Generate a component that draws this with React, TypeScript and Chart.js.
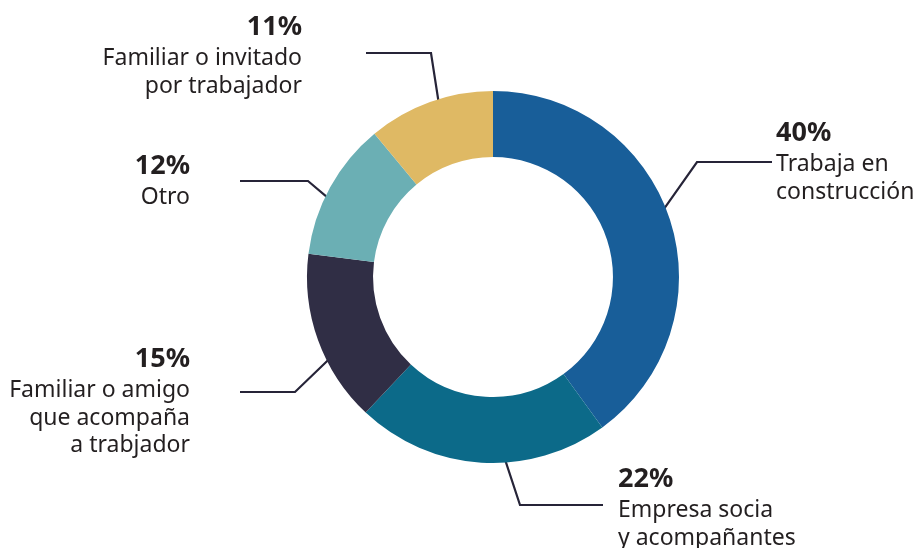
import React, { useEffect, useRef } from "react";
import { Chart, registerables } from "chart.js";

Chart.register(...registerables);

const CATEGORIES = [
  "Trabaja en construcción",
  "Empresa socia y acompañantes",
  "Familiar o amigo que acompaña a trabjador",
  "Otro",
  "Familiar o invitado por trabajador",
];
const LABEL_LINES = [
  ["Trabaja en", "construcción"],
  ["Empresa socia", "y acompañantes"],
  ["Familiar o amigo", "que acompaña", "a trabjador"],
  ["Otro"],
  ["Familiar o invitado", "por trabajador"],
];
const VALUES = [40, 22, 15, 12, 11];
const COLORS = ["#185E99", "#0C6A89", "#302E45", "#6BAFB4", "#DFB964"];

// label placement relative to the doughnut centre
const LAYOUT = [
  { align: "left", tx: 283, py: -136, elbow: [204, -115], end: 279, anchor: 0.48 },
  { align: "left", tx: 125, py: 210, elbow: [27, 228], end: 110, anchor: 0.41 },
  { align: "right", tx: -303, py: 90, elbow: [-198, 115], end: -253, anchor: 0.38 },
  { align: "right", tx: -303, py: -103, elbow: [-185, -96], end: -253, anchor: 0.42 },
  { align: "right", tx: -191, py: -242, elbow: [-62, -224], end: -127, anchor: 0.56 },
];

const FONT = '"Noto Sans", sans-serif';

const leaderPlugin = {
  id: "leaderLabels",
  beforeDatasetsDraw(chart: any) {
    const meta = chart.getDatasetMeta(0);
    const ctx = chart.ctx;
    ctx.save();
    ctx.strokeStyle = "#262438";
    ctx.lineWidth = 2.2;
    meta.data.forEach((arc: any, i: number) => {
      const p = arc.getProps(["x", "y", "startAngle", "endAngle", "outerRadius"], true);
      const L = LAYOUT[i];
      const a = p.startAngle + (p.endAngle - p.startAngle) * L.anchor;
      const r = p.outerRadius - 6;
      const ax = p.x + r * Math.cos(a);
      const ay = p.y + r * Math.sin(a);
      const ex = p.x + L.elbow[0];
      const ey = p.y + L.elbow[1];
      ctx.beginPath();
      ctx.moveTo(ax, ay);
      ctx.lineTo(ex, ey);
      ctx.lineTo(p.x + L.end, ey);
      ctx.stroke();
    });
    ctx.restore();
  },
  afterDraw(chart: any) {
    const meta = chart.getDatasetMeta(0);
    const ctx = chart.ctx;
    ctx.save();
    ctx.fillStyle = "#231F20";
    ctx.textBaseline = "alphabetic";
    meta.data.forEach((arc: any, i: number) => {
      const p = arc.getProps(["x", "y"], true);
      const L = LAYOUT[i];
      ctx.textAlign = L.align;
      const x = p.x + L.tx;
      let y = p.y + L.py;
      ctx.font = `bold 27px ${FONT}`;
      ctx.fillText(`${VALUES[i]}%`, x, y);
      y += 30;
      ctx.font = `23px ${FONT}`;
      LABEL_LINES[i].forEach((line) => {
        ctx.fillText(line, x, y);
        y += 27.5;
      });
    });
    ctx.restore();
  },
};

export default function App() {
  const ref = useRef<HTMLCanvasElement>(null);
  useEffect(() => {
    if (!ref.current) return;
    const chart = new Chart(ref.current, {
      type: "doughnut",
      data: {
        labels: CATEGORIES,
        datasets: [
          {
            data: VALUES,
            backgroundColor: COLORS,
            borderWidth: 0,
          },
        ],
      },
      options: {
        responsive: false,
        animation: false,
        cutout: "64.5%",
        layout: { padding: { top: 91, bottom: 85, left: 307, right: 238 } },
        plugins: {
          legend: { display: false },
          tooltip: { enabled: false },
        },
      },
      plugins: [leaderPlugin],
    });
    return () => chart.destroy();
  }, []);
  return (
    <div style={{ position: "absolute", left: 0, top: 0, width: 917, height: 548, background: "#fff" }}>
      <canvas ref={ref} width={917} height={548} style={{ display: "block" }} />
    </div>
  );
}
